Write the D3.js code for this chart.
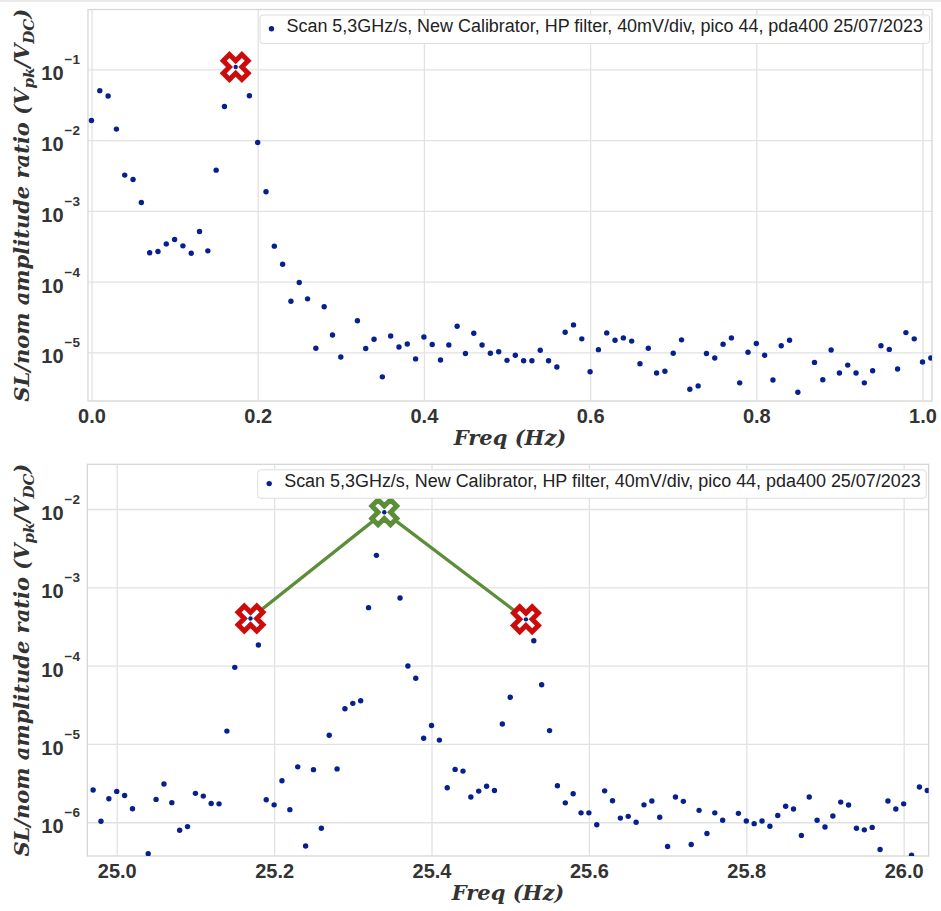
<!DOCTYPE html>
<html><head><meta charset="utf-8">
<script src="https://cdn.jsdelivr.net/npm/d3@7"></script>
<style>body{margin:0;background:#fff}svg{display:block}</style>
</head><body>
<script>
// ---------------- DATA ----------------
const legendLabel = "Scan 5,3GHz/s, New Calibrator, HP filter, 40mV/div, pico 44, pda400 25/07/2023";
const xLabelText = "Freq (Hz)";

const topFreq = [0.00,0.01,0.02,0.03,0.04,0.05,0.06,0.07,0.08,0.09,0.10,0.11,0.12,0.13,0.14,0.15,0.16,0.17,0.18,0.19,
0.20,0.21,0.22,0.23,0.24,0.25,0.26,0.27,0.28,0.29,0.30,0.31,0.32,0.33,0.34,0.35,0.36,0.37,0.38,0.39,
0.40,0.41,0.42,0.43,0.44,0.45,0.46,0.47,0.48,0.49,0.50,0.51,0.52,0.53,0.54,0.55,0.56,0.57,0.58,0.59,
0.60,0.61,0.62,0.63,0.64,0.65,0.66,0.67,0.68,0.69,0.70,0.71,0.72,0.73,0.74,0.75,0.76,0.77,0.78,0.79,
0.80,0.81,0.82,0.83,0.84,0.85,0.86,0.87,0.88,0.89,0.90,0.91,0.92,0.93,0.94,0.95,0.96,0.97,0.98,0.99,
1.00,1.01];
const topVal = [0.0189,0.050,0.042,0.0143,0.0032,0.00277,0.00131,2.55e-4,2.66e-4,3.41e-4,3.93e-4,3.2e-4,2.52e-4,5.1e-4,2.72e-4,0.00376,0.0299,0.098,0.096,0.0424,
0.00925,0.00186,3.17e-4,1.76e-4,5.28e-5,9.7e-5,5.7e-5,1.14e-5,4.4e-5,1.76e-5,8.6e-6,1.6e-6,2.8e-5,1.13e-5,1.53e-5,4.5e-6,1.7e-5,1.19e-5,1.31e-5,8.07e-6,
1.65e-5,1.29e-5,7.8e-6,1.27e-5,2.34e-5,9.6e-6,1.86e-5,1.27e-5,9.7e-6,1.02e-5,7.7e-6,9.1e-6,7.6e-6,7.6e-6,1.07e-5,7.6e-6,6.2e-6,1.92e-5,2.44e-5,1.55e-5,
5.3e-6,1.09e-5,1.88e-5,1.48e-5,1.6e-5,1.44e-5,6.9e-6,1.14e-5,5.1e-6,5.4e-6,9.7e-6,1.5e-5,3.0e-6,3.35e-6,9.6e-6,8.3e-6,1.3e-5,1.6e-5,3.7e-6,1.0e-5,
1.33e-5,9.1e-6,4.07e-6,1.24e-5,1.48e-5,2.72e-6,1.5e-6,7.2e-6,4.1e-6,1.08e-5,5.1e-6,6.6e-6,5.1e-6,3.7e-6,5.5e-6,1.24e-5,1.1e-5,5.8e-6,1.9e-5,1.55e-5,
7.3e-6,8.3e-6];

const botFreq = [24.97,24.98,24.99,25.00,25.01,25.02,25.03,25.04,25.05,25.06,25.07,25.08,25.09,25.10,25.11,25.12,25.13,25.14,25.15,25.16,
25.17,25.18,25.19,25.20,25.21,25.22,25.23,25.24,25.25,25.26,25.27,25.28,25.29,25.30,25.31,25.32,25.33,25.34,25.35,25.36,
25.37,25.38,25.39,25.40,25.41,25.42,25.43,25.44,25.45,25.46,25.47,25.48,25.49,25.50,25.51,25.52,25.53,25.54,25.55,25.56,
25.57,25.58,25.59,25.60,25.61,25.62,25.63,25.64,25.65,25.66,25.67,25.68,25.69,25.70,25.71,25.72,25.73,25.74,25.75,25.76,
25.77,25.78,25.79,25.80,25.81,25.82,25.83,25.84,25.85,25.86,25.87,25.88,25.89,25.90,25.91,25.92,25.93,25.94,25.95,25.96,
25.97,25.98,25.99,26.00,26.01,26.02,26.03];
const botVal = [2.58e-6,1.03e-6,2.0e-6,2.48e-6,2.2e-6,1.49e-6,3.0e-7,3.97e-7,1.96e-6,3.08e-6,1.78e-6,7.9e-7,8.8e-7,2.34e-6,2.16e-6,1.74e-6,1.72e-6,1.46e-5,9.5e-5,3.6e-4,
4.0e-4,1.83e-4,1.94e-6,1.67e-6,3.39e-6,1.45e-6,5.1e-6,4.97e-7,4.7e-6,8.4e-7,1.29e-5,4.8e-6,2.82e-5,3.3e-5,3.56e-5,5.5e-4,2.56e-3,9.1e-3,8.5e-3,7.3e-4,
9.9e-5,6.9e-5,1.18e-5,1.72e-5,1.12e-5,2.76e-6,4.73e-6,4.5e-6,2.1e-6,2.5e-6,2.88e-6,2.55e-6,1.8e-5,3.94e-5,3.6e-4,3.9e-4,2.08e-4,5.7e-5,1.48e-5,2.92e-6,
1.77e-6,2.31e-6,1.32e-6,1.32e-6,9.3e-7,2.52e-6,1.88e-6,1.13e-6,1.19e-6,1.0e-6,1.67e-6,1.87e-6,1.16e-6,4.9e-7,2.1e-6,1.85e-6,5.2e-7,1.42e-6,7.2e-7,1.32e-6,
1.06e-6,3.0e-7,1.3e-6,1.04e-6,9.6e-7,1.04e-6,8.9e-7,1.22e-6,1.6e-6,1.48e-6,6.8e-7,2.1e-6,1.06e-6,8.7e-7,1.2e-6,1.81e-6,1.66e-6,8.4e-7,8.0e-7,8.6e-7,
4.5e-7,1.87e-6,1.48e-6,1.72e-6,3.8e-7,2.82e-6,2.55e-6];

const topTicksX = [0.0,0.2,0.4,0.6,0.8,1.0];
const topTickExp = [-5,-4,-3,-2,-1];
const botTicksX = [25.0,25.2,25.4,25.6,25.8,26.0];
const botTickExp = [-6,-5,-4,-3,-2];

const topPeakFreq = [0.1735], topPeakVal = [0.108];
const botSidePeakFreq = [25.17,25.52], botSidePeakVal = [4.0e-4,3.9e-4];
const botMainPeakFreq = [25.34], botMainPeakVal = [9.1e-3];
const botLineFreq = [25.17,25.34,25.52], botLineVal = [4.0e-4,9.1e-3,3.9e-4];

// ---------------- STYLE ----------------
const DOT = "#06208f", RED = "#cc0c0c", GREEN = "#5c8e3a";
const GRID = "#e2e2e2", SPINE = "#d6d6d6", TXT = "#333333";
const SERIF = "'DejaVu Serif', 'Liberation Serif', serif";
const SANS = "'Liberation Sans', Arial, sans-serif";

const W = 941, H = 911;
const svg = d3.select("body").append("svg").attr("width", W).attr("height", H)
  .style("font-family", SANS);
svg.append("rect").attr("width", W).attr("height", H).attr("fill", "#fff");
svg.append("line").attr("x1",0).attr("x2",W).attr("y1",1).attr("y2",1).attr("stroke","#e9e9e9").attr("stroke-width",2);

// filled-X marker path (plus rotated 45deg)
function xMarker(a, b){
  const pts = [[a,b],[a,a],[b,a],[b,-a],[a,-a],[a,-b],[-a,-b],[-a,-a],[-b,-a],[-b,a],[-a,a],[-a,b]];
  const c = Math.SQRT1_2;
  return "M" + pts.map(([px,py]) => [(px - py)*c, (px + py)*c].map(v=>v.toFixed(2)).join(",")).join("L") + "Z";
}
const XPATH = xMarker(4.4, 13.2);

function drawPanel(cfg, idx){
  const x = d3.scaleLinear().domain(cfg.xDomain).range([cfg.left, cfg.right]);
  const y = d3.scaleLog().domain(cfg.yDomain).range([cfg.bottom, cfg.top]);
  const g = svg.append("g");
  const ph = cfg.bottom - cfg.top, pw = cfg.right - cfg.left;

  const clipId = "clip" + idx;
  svg.append("clipPath").attr("id", clipId).append("rect")
    .attr("x", cfg.left).attr("y", cfg.top).attr("width", pw).attr("height", ph);

  // x axis (grid + labels)
  const xa = g.append("g").attr("transform", `translate(0,${cfg.bottom})`)
    .call(d3.axisBottom(x).tickValues(cfg.xTicks).tickSize(-ph).tickFormat(d3.format(".1f")));
  xa.select(".domain").remove();
  xa.selectAll("line").attr("stroke", GRID).attr("stroke-width", 1.3);
  xa.selectAll("text").attr("y", 22).attr("dy", 0).attr("fill", TXT)
    .style("font-size", "20px").style("font-weight", "bold").style("font-family", SANS);

  // y axis (grid + mathtext-like labels)
  const yVals = cfg.yExp.map(e => Math.pow(10, e));
  const ya = g.append("g").attr("transform", `translate(${cfg.left},0)`)
    .call(d3.axisLeft(y).tickValues(yVals).tickSize(-pw).tickFormat(() => ""));
  ya.select(".domain").remove();
  ya.selectAll("line").attr("stroke", GRID).attr("stroke-width", 1.3);
  ya.selectAll(".tick text").remove();
  ya.selectAll(".tick").each(function(d){
    const e = Math.round(Math.log10(d));
    const t = d3.select(this).append("text").attr("x", 80 - cfg.left).attr("y", 10.5)
      .attr("text-anchor", "end").attr("fill", TXT)
      .style("font-family", SANS).style("font-weight", "bold");
    t.append("tspan").style("font-size", "20px").text("10");
    t.append("tspan").style("font-size", "13.5px").attr("dx", 1).attr("dy", -16).text("\u2212" + Math.abs(e));
  });

  // frame
  g.append("rect").attr("x", cfg.left).attr("y", cfg.top).attr("width", pw).attr("height", ph)
    .attr("fill", "none").attr("stroke", SPINE).attr("stroke-width", 1.3);

  const plot = g.append("g").attr("clip-path", `url(#${clipId})`);

  // data dots
  plot.selectAll("circle.pt").data(cfg.freq.map((f,i) => [f, cfg.val[i]])).join("circle")
    .attr("class","pt").attr("cx", d => x(d[0])).attr("cy", d => y(d[1])).attr("r", 2.7).attr("fill", DOT);

  // connecting line
  if (cfg.lineF){
    plot.append("path").datum(cfg.lineF.map((f,i)=>[f, cfg.lineV[i]]))
      .attr("d", d3.line().x(d=>x(d[0])).y(d=>y(d[1])))
      .attr("fill","none").attr("stroke", GREEN).attr("stroke-width", 3.3);
  }
  // peak markers
  cfg.markers.forEach(m => {
    m.f.forEach((f,i) => {
      const cx = x(f), cy = y(m.v[i]);
      plot.append("path").attr("d", XPATH).attr("transform", `translate(${cx},${cy})`)
        .attr("fill", "#fff").attr("stroke", m.color).attr("stroke-width", 5).attr("stroke-linejoin","miter");
      plot.append("circle").attr("cx", cx).attr("cy", cy).attr("r", 2.2).attr("fill", DOT);
    });
  });

  // legend
  const lg = g.append("g");
  lg.append("rect").attr("x", cfg.legX).attr("y", cfg.top + 5.5).attr("width", cfg.right - 2.5 - cfg.legX).attr("height", 28.5)
    .attr("rx", 3).attr("fill", "#fff").attr("stroke", "#dddddd").attr("stroke-width", 1);
  lg.append("circle").attr("cx", cfg.legX + 11.5).attr("cy", cfg.top + 19.3).attr("r", 2.7).attr("fill", DOT);
  lg.append("text").attr("x", cfg.legX + 26.5).attr("y", cfg.top + 22.8).attr("fill", "#222")
    .style("font-size", "17.95px").text(legendLabel);

  // x label
  g.append("text").attr("x", (cfg.left + cfg.right)/2).attr("y", cfg.bottom + 44)
    .attr("text-anchor","middle").attr("fill", TXT)
    .style("font-family", SERIF).style("font-weight","bold").style("font-style","italic")
    .style("font-size","21px").text(xLabelText);

  // y label
  const yl = g.append("text").attr("transform", `translate(29,${(cfg.top+cfg.bottom)/2}) rotate(-90)`)
    .attr("text-anchor","middle").attr("fill", TXT)
    .style("font-family", SERIF).style("font-weight","bold").style("font-style","italic")
    .style("font-size","21px");
  yl.append("tspan").text("SL/nom amplitude ratio (V");
  yl.append("tspan").style("font-size","15px").attr("dy", 4.5).text("pk");
  yl.append("tspan").attr("dy", -4.5).text("/V");
  yl.append("tspan").style("font-size","15px").attr("dy", 4.5).text("DC");
  yl.append("tspan").attr("dy", -4.5).text(")");
}

drawPanel({left:88, right:932, top:9.5, bottom:401, xDomain:[-0.0042, 1.0114], yDomain:[2.05e-6, 0.702],
  xTicks: topTicksX, yExp: topTickExp, freq: topFreq, val: topVal, legX: 260,
  markers: [{f: topPeakFreq, v: topPeakVal, color: RED}]}, 0);

drawPanel({left:87.3, right:928.7, top:464.3, bottom:856, xDomain:[24.9626, 26.0318], yDomain:[3.71e-7, 0.0372],
  xTicks: botTicksX, yExp: botTickExp, freq: botFreq, val: botVal, legX: 257.7,
  lineF: botLineFreq, lineV: botLineVal,
  markers: [{f: botSidePeakFreq, v: botSidePeakVal, color: RED}, {f: botMainPeakFreq, v: botMainPeakVal, color: GREEN}]}, 1);
</script>
</body></html>
